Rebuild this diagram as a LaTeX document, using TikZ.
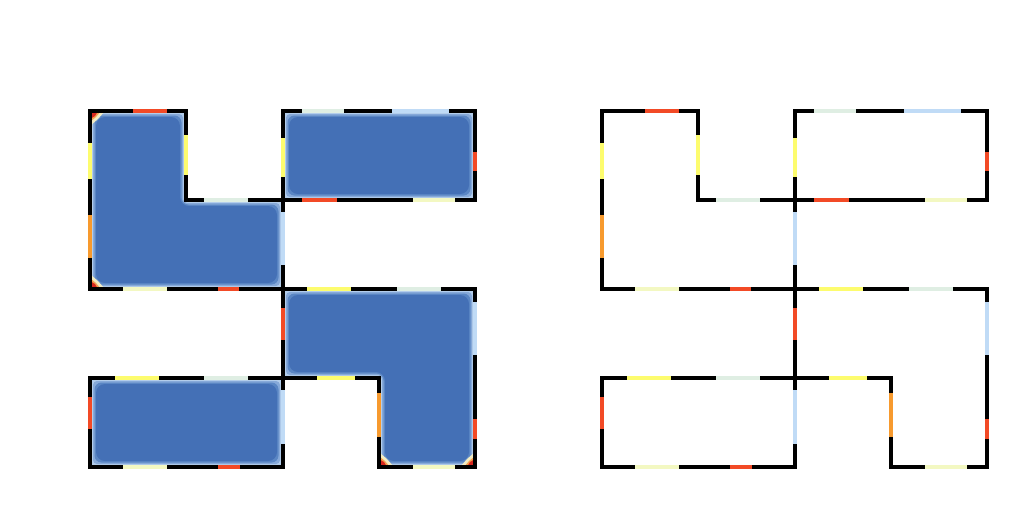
\documentclass[tikz,border=0pt]{standalone}
\definecolor{cred}{HTML}{F24A26}
\definecolor{cyel}{HTML}{FDFC6E}
\definecolor{clyel}{HTML}{F3F8C2}
\definecolor{corg}{HTML}{F79A2E}
\definecolor{clgrn}{HTML}{DFEEE3}
\definecolor{clblu}{HTML}{C0DBF6}
\definecolor{bA}{HTML}{B3CDEB}
\definecolor{bB}{HTML}{86A9D9}
\definecolor{bC}{HTML}{5A86C4}
\definecolor{bD}{HTML}{4470B6}
\definecolor{hpale}{HTML}{F2ECC4}
\definecolor{horg}{HTML}{F5A050}
\definecolor{hred}{HTML}{D7261E}
\tikzset{
  outline/.style={line width=4.5pt, draw=black, line join=miter},
  seg/.style={line width=4.5pt, line cap=butt}
}
\newcommand\fillall[3]{%
  \fill[#3,rounded corners=#2] (90+#1,111+#1) -- (186-#1,111+#1) -- (186-#1,200+#1) -- (283-#1,200+#1) -- (283-#1,289-#1) -- (90+#1,289-#1) -- cycle;
  \fill[#3,rounded corners=#2] (283+#1,111+#1) rectangle (475-#1,200-#1);
  \fill[#3,rounded corners=#2] (283+#1,289+#1) -- (475-#1,289+#1) -- (475-#1,467-#1) -- (379+#1,467-#1) -- (379+#1,378-#1) -- (283+#1,378-#1) -- cycle;
  \fill[#3,rounded corners=#2] (90+#1,378+#1) rectangle (283-#1,467-#1);
}
\newcommand\hotc[4]{%
  \fill[hpale] (#1,#2) -- ({#1+15*(#3)},#2) -- ({#1+8*(#3)},{#2+8*(#4)}) -- (#1,{#2+15*(#4)}) -- cycle;
  \fill[horg] (#1,#2) -- ({#1+11*(#3)},#2) -- ({#1+6*(#3)},{#2+6*(#4)}) -- (#1,{#2+11*(#4)}) -- cycle;
  \fill[hred] (#1,#2) -- ({#1+8*(#3)},#2) -- ({#1+5*(#3)},{#2+5*(#4)}) -- (#1,{#2+8*(#4)}) -- cycle;
}
\newcommand\hs[4]{\draw[seg,#1] (#2,#4) -- (#3,#4);}
\newcommand\vs[4]{\draw[seg,#1] (#4,#2) -- (#4,#3);}
\newcommand\outlines{%
  \draw[outline] (90,111) -- (186,111) -- (186,200) -- (283,200) -- (283,289) -- (90,289) -- cycle;
  \draw[outline] (283,111) rectangle (475,200);
  \draw[outline] (283,289) -- (475,289) -- (475,467) -- (379,467) -- (379,378) -- (283,378) -- cycle;
  \draw[outline] (90,378) rectangle (283,467);
  % top y=111
  \hs{cred}{133}{167}{111}
  \hs{clgrn}{302}{344}{111}
  \hs{clblu}{392}{449}{111}
  % x=186
  \vs{cyel}{135}{175}{186}
  % x=90
  \vs{cyel}{143}{179}{90}
  \vs{corg}{215}{258}{90}
  \vs{cred}{397}{429}{90}
  % y=200
  \hs{clgrn}{204}{248}{200}
  \hs{cred}{302}{337}{200}
  \hs{clyel}{413}{455}{200}
  % x=283
  \vs{cyel}{138}{177}{283}
  \vs{clblu}{212}{265}{283}
  \vs{cred}{308}{340}{283}
  \vs{clblu}{390}{444}{283}
  % x=475
  \vs{cred}{152}{171}{475}
  \vs{clblu}{302}{355}{475}
  \vs{cred}{419}{439}{475}
  % y=289
  \hs{clyel}{123}{167}{289}
  \hs{cred}{218}{239}{289}
  \hs{cyel}{307}{351}{289}
  \hs{clgrn}{397}{441}{289}
  % y=378
  \hs{cyel}{115}{159}{378}
  \hs{clgrn}{204}{248}{378}
  \hs{cyel}{317}{355}{378}
  % x=379
  \vs{corg}{393}{437}{379}
  % y=467
  \hs{clyel}{123}{167}{467}
  \hs{cred}{218}{240}{467}
  \hs{clyel}{413}{455}{467}
}
\begin{document}
\begin{tikzpicture}[x=1pt,y=-1pt]
\useasboundingbox (0,0) rectangle (1024,512);
\fill[white] (0,0) rectangle (1024,512);
% left panel: heat map fill
\fillall{2}{0.1pt}{bA}
\fillall{3}{4pt}{bB}
\fillall{4.5}{7pt}{bC}
\fillall{6}{9pt}{bD}
\hotc{90}{111}{1}{1}
\hotc{90}{289}{1}{-1}
\hotc{379}{467}{1}{-1}
\hotc{475}{467}{-1}{-1}
\outlines
% right panel: outlines only
\begin{scope}[xshift=512pt]
\outlines
\end{scope}
\end{tikzpicture}
\end{document}
